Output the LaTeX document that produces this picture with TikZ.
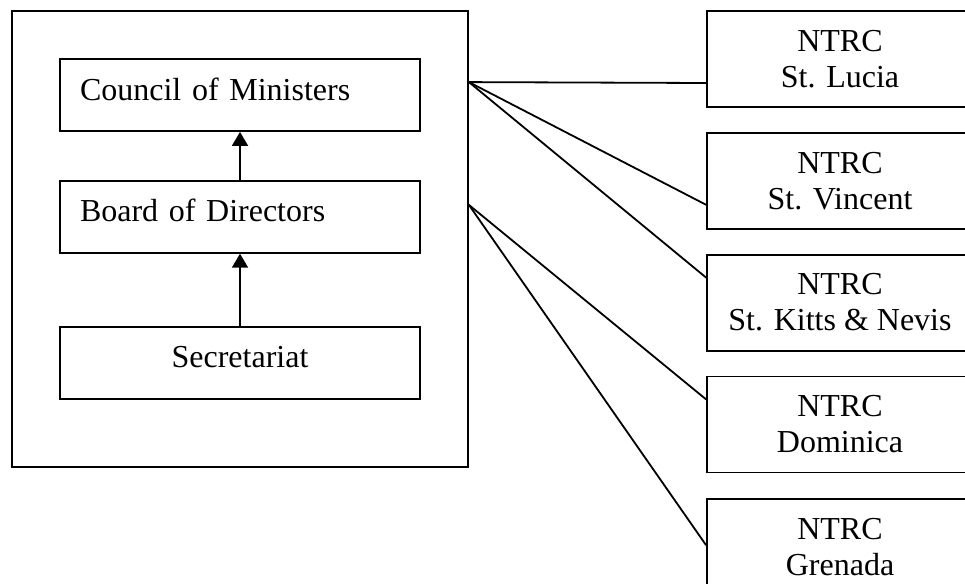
\documentclass[tikz,border=0pt]{standalone}
\usepackage{fontspec}
\setmainfont{Liberation Serif}
\usepackage{tikz}
\usetikzlibrary{shapes, positioning, arrows.meta}
\newcommand{\boxfont}{\fontsize{32}{36}\selectfont}

\begin{document}
\begin{tikzpicture}[x=1pt, y=1pt]
    % Define the style for the boxes
    \tikzset{
        body/.style={rectangle, draw, line width=1.8pt, minimum height=72pt, minimum width=360pt, inner xsep=20pt, text width=320pt, text height=22pt, text depth=12pt, align=left, font=\boxfont},
        ntrc/.style={rectangle, draw, line width=1.8pt, minimum height=96pt, minimum width=266pt, align=center, font=\boxfont},
        link/.style={line width=1.8pt},
        up/.style={line width=1.8pt, -{Triangle[width=16pt, length=14pt]}}
    }
    \clip (0,0) rectangle (965,-583);

    % Draw the outer frame and the bodies inside it
    \node[rectangle, draw, line width=1.8pt, minimum width=456pt, minimum height=456pt] (frame) at (240,-239) {};
    \node[body] (council) at (240,-95) {Council of Ministers};
    \node[body, below=48pt of council] (board) {Board of Directors};
    \node[body, below=72pt of board, align=center] (secr) {Secretariat};

    \draw[up] (board) -- (council);
    \draw[up] (secr) -- (board);

    % Draw the national commissions
    \node[ntrc] (lucia) at (840,-59) {NTRC\\St. Lucia};
    \node[ntrc, below=24pt of lucia] (vincent) {NTRC\\St. Vincent};
    \node[ntrc, below=24pt of vincent] (kitts) {NTRC\\St. Kitts \& Nevis};
    \node[ntrc, below=24pt of kitts] (dominica) {NTRC\\Dominica};
    \node[ntrc, below=25pt of dominica] (grenada) {NTRC\\Grenada};

    % Draw the links
    \coordinate (cm) at ([yshift=-24pt]council.north -| frame.east);
    \coordinate (bd) at ([yshift=-25pt]board.north -| frame.east);
    \draw[link] (cm) -- ([yshift=-24pt]lucia.west);
    \draw[link] (cm) -- ([yshift=-24pt]vincent.west);
    \draw[link] (cm) -- ([yshift=25pt]kitts.west);
    \draw[link] (bd) -- ([yshift=25pt]dominica.west);
    \draw[link] (bd) -- ([yshift=2pt]grenada.west);
\end{tikzpicture}
\end{document}
